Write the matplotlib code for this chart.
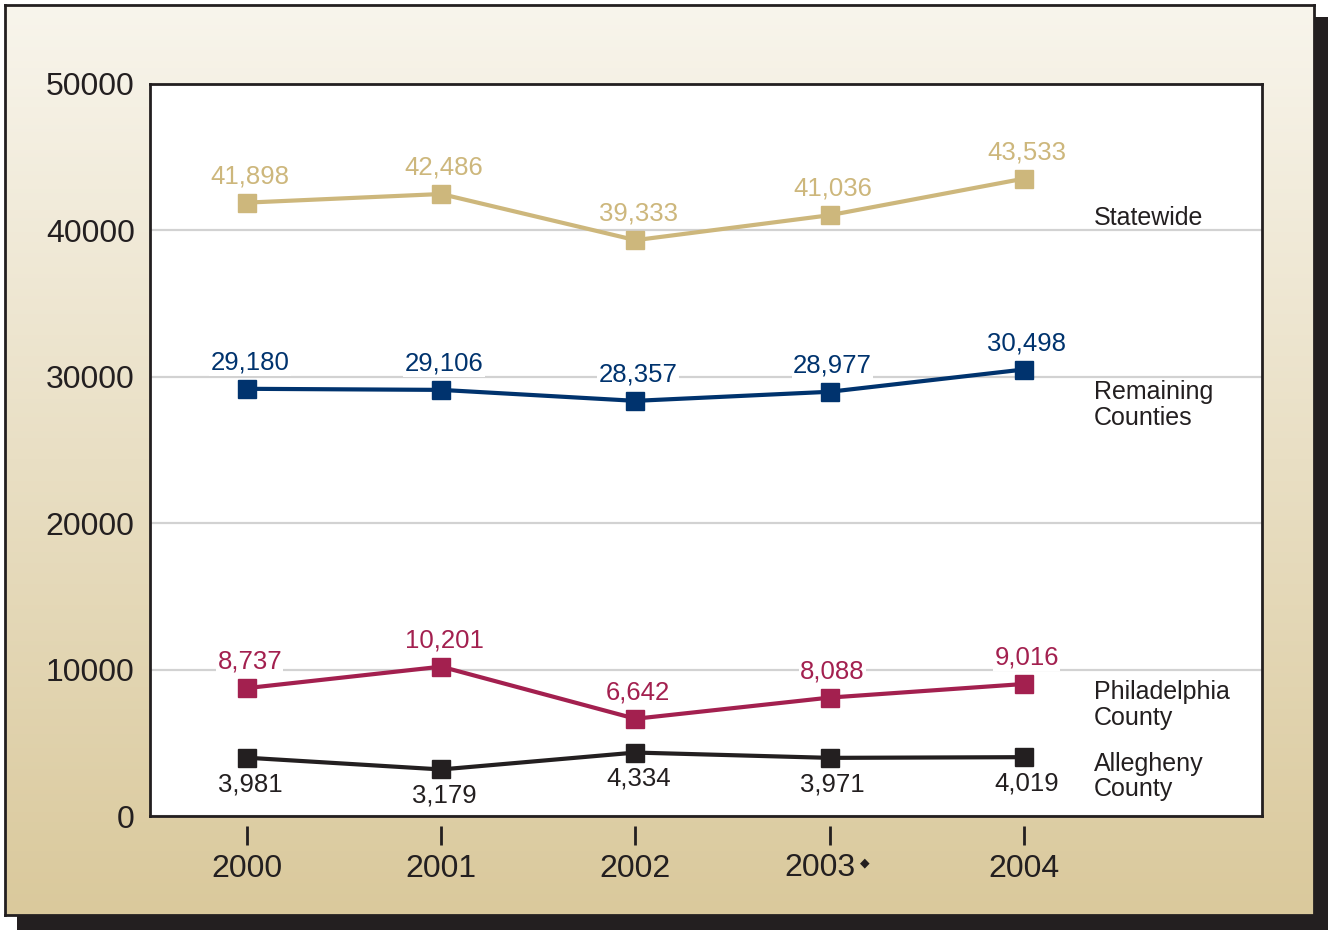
import numpy as np
import matplotlib.pyplot as plt
from matplotlib.patches import Rectangle

plt.rcParams['font.family'] = ['Liberation Sans', 'DejaVu Sans']

years = ['2000', '2001', '2002', '2003', '2004']
statewide = [41898, 42486, 39333, 41036, 43533]
remaining = [29180, 29106, 28357, 28977, 30498]
philadelphia = [8737, 10201, 6642, 8088, 9016]
allegheny = [3981, 3179, 4334, 3971, 4019]

series = [
    ('Statewide', statewide, '#cdb77c', 'above'),
    ('Remaining\nCounties', remaining, '#00336e', 'above'),
    ('Philadelphia\nCounty', philadelphia, '#a3204f', 'above'),
    ('Allegheny\nCounty', allegheny, '#231f20', 'below'),
]
# y of the right-hand names (data units)
name_y = [40850, 28050, 7600, 2700]

W, H = 1328, 930
fig = plt.figure(figsize=(W / 100, H / 100), dpi=100)
fig.patch.set_facecolor('white')

# drop shadow
fig.add_artist(Rectangle((17 / W, 0), 1311 / W, 913 / H, transform=fig.transFigure,
                         facecolor='#231f20', edgecolor='none', zorder=0))

# gradient panel
bg = fig.add_axes([5 / W, 15 / H, 1309 / W, 910 / H], zorder=1)
top = np.array([248, 245, 236]) / 255
bot = np.array([218, 201, 156]) / 255
t = np.linspace(0, 1, 256)[:, None]
grad = top + (bot - top) * t
bg.imshow(grad[:, None, :].repeat(2, axis=1), aspect='auto', extent=(0, 1, 0, 1))
bg.set_xticks([])
bg.set_yticks([])
for s in bg.spines.values():
    s.set_color('#231f20')
    s.set_linewidth(2)

# plot area
ax = fig.add_axes([150 / W, (H - 816) / H, 1112 / W, 732 / H], zorder=2)
ax.set_facecolor('white')
x = np.arange(len(years))
ax.set_xlim(-0.5, 5.227)
ax.set_ylim(0, 50000)
ax.set_yticks([0, 10000, 20000, 30000, 40000, 50000])
ax.set_yticklabels(['0', '10000', '20000', '30000', '40000', '50000'], fontsize=23, color='#231f20')
ax.tick_params(axis='y', length=0, pad=11)
ax.set_xticks([])
ax.grid(axis='y', color='#d2d2d2', linewidth=1.6)
ax.set_axisbelow(True)
for s in ax.spines.values():
    s.set_color('#231f20')
    s.set_linewidth(2)

for (name, vals, col, pos), ny in zip(series, name_y):
    ax.plot(x, vals, color=col, linewidth=3, marker='s', markersize=13, zorder=3)
    for xi, v in zip(x, vals):
        dy = 19 if pos == 'above' else -19
        ax.annotate(f'{v:,}', (xi, v), xytext=(2, dy), textcoords='offset points',
                    ha='center', va='center', fontsize=18.5, color=col, zorder=4,
                    bbox=dict(boxstyle='square,pad=0.05', facecolor='white', edgecolor='none'))
    ax.text(4.36, ny, name, fontsize=18, color='#231f20', ha='left', va='center',
            linespacing=1.1)

# x ticks sitting below the plot frame
sec = ax.secondary_xaxis(-0.014)
sec.set_xticks(x)
sec.set_xticklabels(['2000', '2001', '2002', '', '2004'], fontsize=23, color='#231f20')
sec.tick_params(axis='x', length=14, width=2, color='#231f20', pad=6)
sec.spines['bottom'].set_visible(False)
# 2003 label is nudged left to make room for the diamond note
ax.annotate('2003', (3, 0), xytext=(-7, -26.4), textcoords='offset points',
            ha='center', va='top', fontsize=23, color='#231f20', annotation_clip=False)
ax.annotate('\u25c6', (3, 0), xytext=(25, -34), textcoords='offset points',
            ha='center', va='center', fontsize=9, color='#231f20',
            family='DejaVu Sans', annotation_clip=False)

fig.savefig('out.png', dpi=100)
